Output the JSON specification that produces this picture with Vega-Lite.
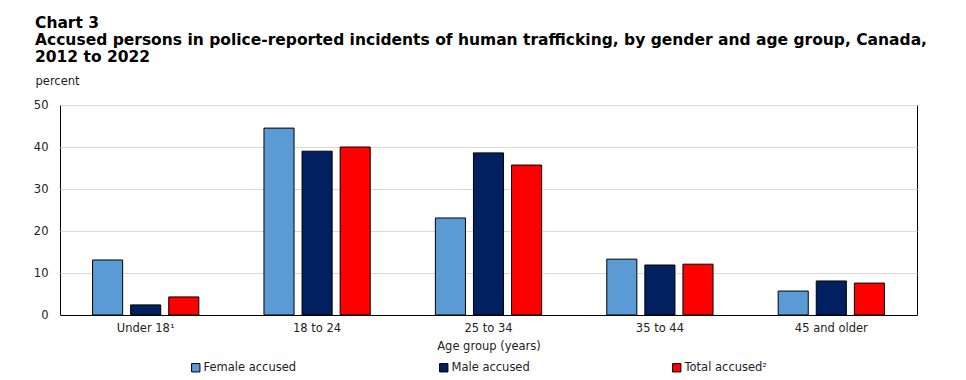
{
  "$schema": "https://vega.github.io/schema/vega-lite/v6.json",
  "width": 857,
  "height": 210,
  "autosize": "none",
  "padding": {"left": 60, "top": 105, "right": 49, "bottom": 65},
  "background": "white",
  "title": {
    "text": ["Chart 3", "Accused persons in police-reported incidents of human trafficking, by gender and age group, Canada,", "2012 to 2022"],
    "anchor": "start",
    "frame": "group",
    "dx": -25,
    "offset": 10,
    "font": "DejaVu Sans",
    "fontSize": 15.5,
    "fontWeight": "bold",
    "lineHeight": 17,
    "color": "#000000"
  },
  "data": {
    "values": [
      {"age": "Under 18¹", "series": "Female accused", "value": 13.1},
      {"age": "Under 18¹", "series": "Male accused", "value": 2.4},
      {"age": "Under 18¹", "series": "Total accused²", "value": 4.3},
      {"age": "18 to 24", "series": "Female accused", "value": 44.5},
      {"age": "18 to 24", "series": "Male accused", "value": 39.0},
      {"age": "18 to 24", "series": "Total accused²", "value": 40.0},
      {"age": "25 to 34", "series": "Female accused", "value": 23.1},
      {"age": "25 to 34", "series": "Male accused", "value": 38.6},
      {"age": "25 to 34", "series": "Total accused²", "value": 35.7},
      {"age": "35 to 44", "series": "Female accused", "value": 13.3},
      {"age": "35 to 44", "series": "Male accused", "value": 11.9},
      {"age": "35 to 44", "series": "Total accused²", "value": 12.1},
      {"age": "45 and older", "series": "Female accused", "value": 5.7},
      {"age": "45 and older", "series": "Male accused", "value": 8.1},
      {"age": "45 and older", "series": "Total accused²", "value": 7.6}
    ]
  },
  "mark": {"type": "bar", "stroke": "#000000", "strokeWidth": 1},
  "encoding": {
    "x": {
      "field": "age",
      "type": "nominal",
      "sort": null,
      "scale": {"paddingInner": 0.38, "paddingOuter": 0.19},
      "axis": {
        "title": "Age group (years)",
        "labelAngle": 0,
        "ticks": false,
        "domainColor": "#000000",
        "labelFont": "DejaVu Sans",
        "labelFontSize": 11.5,
        "labelColor": "#222222",
        "labelPadding": 7,
        "titleFont": "DejaVu Sans",
        "titleFontSize": 11.5,
        "titleFontWeight": "normal",
        "titleColor": "#222222",
        "titlePadding": 7
      }
    },
    "xOffset": {
      "field": "series",
      "type": "nominal",
      "scale": {"paddingInner": 0.21, "paddingOuter": 0}
    },
    "y": {
      "field": "value",
      "type": "quantitative",
      "scale": {"domain": [0, 50]},
      "axis": {
        "values": [0, 10, 20, 30, 40, 50],
        "title": "percent",
        "titleAngle": 0,
        "titleAlign": "left",
        "titleBaseline": "alphabetic",
        "titleX": -25,
        "titleY": -21,
        "titleFont": "DejaVu Sans",
        "titleFontSize": 11.5,
        "titleFontWeight": "normal",
        "titleColor": "#222222",
        "ticks": false,
        "domain": false,
        "labelFont": "DejaVu Sans",
        "labelFontSize": 11.5,
        "labelColor": "#222222",
        "labelPadding": 12,
        "gridColor": "#d9d9d9"
      }
    },
    "color": {
      "field": "series",
      "type": "nominal",
      "scale": {
        "domain": ["Female accused", "Male accused", "Total accused²"],
        "range": ["#5b9bd5", "#002060", "#ff0000"]
      },
      "legend": {
        "title": null,
        "orient": "none",
        "legendX": 130,
        "legendY": 257,
        "direction": "horizontal",
        "columns": 3,
        "columnPadding": 140,
        "symbolType": "square",
        "symbolSize": 70,
        "symbolStrokeColor": "#000000",
        "symbolStrokeWidth": 1,
        "labelFont": "DejaVu Sans",
        "labelFontSize": 11.5,
        "labelColor": "#222222",
        "labelOffset": 2
      }
    }
  },
  "config": {
    "view": {"stroke": "#000000", "strokeWidth": 1}
  }
}
